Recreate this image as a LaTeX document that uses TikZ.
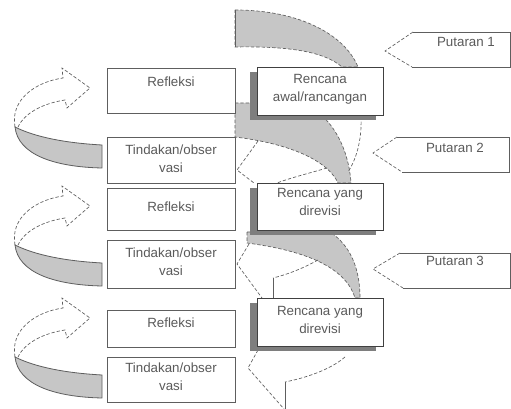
\documentclass[tikz,border=0pt]{standalone}
\usepackage{fontspec}
\setmainfont{Liberation Sans}
\usetikzlibrary{fit}
\definecolor{bandgray}{HTML}{C6C6C6}
\definecolor{shadowgray}{HTML}{7E7E7E}
\definecolor{linegray}{HTML}{5E5E5E}
\definecolor{txtgray}{HTML}{5A5A5A}
\begin{document}
\begin{tikzpicture}[x=0.75pt,y=-0.75pt,
  lbox/.style={draw=linegray, fill=white, inner sep=0pt, line width=0.6pt},
  rbox/.style={draw=black!75, fill=white, inner sep=0pt, line width=0.6pt},
  shadowbox/.style={fill=shadowgray, draw=none, inner sep=0pt},
  txt/.style={text=txtgray, font=\fontsize{10}{13.5}\selectfont, align=center, inner sep=0pt},
  band/.style={fill=bandgray, draw=linegray, dash pattern=on 2.5pt off 1.5pt, line width=0.5pt},
  fold/.style={draw=linegray, dash pattern=on 2.5pt off 1.5pt, line width=0.5pt},
  edge/.style={draw=linegray, line width=0.6pt}]
\useasboundingbox (0,0) rectangle (511,409);

% ---- central curved bands ----
\path[band] (235,10) .. controls (300,10) and (345,35) .. (358,67) -- (342,67)
  .. controls (325,52) and (290,46) .. (235,47) -- cycle;
\draw[edge] (235,10) -- (235,47);

\path[band] (235,103) -- (300,103) .. controls (325,110) and (348,140) .. (351,183)
  -- (338,183) .. controls (330,165) and (300,145) .. (235,137) -- cycle;
\draw[fold] (333,119) .. controls (345,116) .. (361,118) .. controls (362,140) and (356,160) .. (348,172);
\draw[fold] (258,141) -- (237,170) -- (254,183);
\draw[fold] (327,168) .. controls (310,173) and (290,178) .. (277,183);

\path[band] (247,232) -- (330,232) .. controls (350,245) and (360,268) .. (360,298)
  -- (355,298) .. controls (345,265) and (300,250) .. (247,243) -- cycle;
\draw[fold] (249,244) -- (237,264) -- (262,298);
\draw[fold] (318,260) .. controls (300,270) and (285,275) .. (273,278);
\draw[edge] (273,278) -- (273,298);

\draw[fold] (258,350) -- (248,368) -- (284,409);
\draw[fold] (345,357) .. controls (330,370) and (305,378) .. (285,382);
\draw[edge] (285,382) -- (285,409);

% ---- left curved arrows ----
\foreach \dy in {0,118,230}{
\begin{scope}[shift={(0,\dy)}]
  \path[fill=bandgray, draw=linegray, line width=0.6pt] (102,145) -- (102,168)
    .. controls (55,167) and (18,155) .. (15,127)
    .. controls (35,137) and (65,143) .. (102,145) -- cycle;
  \path[fill=white, draw=linegray, dash pattern=on 2.5pt off 1.5pt, line width=0.5pt]
    (15,127) .. controls (10,100) and (35,82) .. (63,78) -- (62,68) -- (90,88)
    -- (67,108) -- (65,100) .. controls (45,103) and (25,112) .. (18,127) -- cycle;
\end{scope}}

% ---- left boxes ----
\node[lbox, fit={(107,68) (235,113)}] (r1) {};
\node[lbox, fit={(107,137) (235,183)}] (t1) {};
\node[lbox, fit={(107,188) (235,230)}] (r2) {};
\node[lbox, fit={(107,240) (235,288)}] (t2) {};
\node[lbox, fit={(107,310) (235,347)}] (r3) {};
\node[lbox, fit={(107,357) (235,402)}] (t3) {};
\node[txt] (r1t) at (171,82) {Refleksi};
\node[txt] (t1t) at (171,159) {Tindakan/obser\\vasi};
\node[txt] (r2t) at (171,207) {Refleksi};
\node[txt] (t2t) at (171,262) {Tindakan/obser\\vasi};
\node[txt] (r3t) at (171,323) {Refleksi};
\node[txt] (t3t) at (171,377) {Tindakan/obser\\vasi};

% ---- Rencana boxes with shadows ----
\node[shadowbox, fit={(250,72) (376,120)}] (s1) {};
\node[rbox, fit={(257,67) (383,115)}] (n1) {};
\node[shadowbox, fit={(250,188) (376,235)}] (s2) {};
\node[rbox, fit={(257,183) (383,230)}] (n2) {};
\node[shadowbox, fit={(250,303) (376,351)}] (s3) {};
\node[rbox, fit={(257,298) (383,346)}] (n3) {};
\node[txt] (n1t) at (320,89) {Rencana\\awal/rancangan};
\node[txt] (n2t) at (320,202) {Rencana yang\\direvisi};
\node[txt] (n3t) at (320,320) {Rencana yang\\direvisi};

% ---- Putaran callouts ----
\path[fill=white] (385,51) -- (413,32) -- (510,32) -- (510,67) -- (412,67) -- cycle;
\draw[edge] (413,32) -- (510,32) -- (510,67) -- (412,67);
\draw[fold] (413,32) -- (385,51) -- (412,67);
\node[txt] (p1) at (466,42) {Putaran 1};

\path[fill=white] (373,153) -- (397,137) -- (509,137) -- (509,172) -- (402,172) -- cycle;
\draw[edge] (397,137) -- (509,137) -- (509,172) -- (402,172);
\draw[fold] (397,137) -- (373,153) -- (402,172);
\node[txt] (p2) at (455,148) {Putaran 2};

\path[fill=white] (373,269) -- (400,253) -- (510,253) -- (510,288) -- (403,288) -- cycle;
\draw[edge] (400,253) -- (510,253) -- (510,288) -- (403,288);
\draw[fold] (400,253) -- (373,269) -- (403,288);
\node[txt] (p3) at (455,261) {Putaran 3};
\end{tikzpicture}
\end{document}
